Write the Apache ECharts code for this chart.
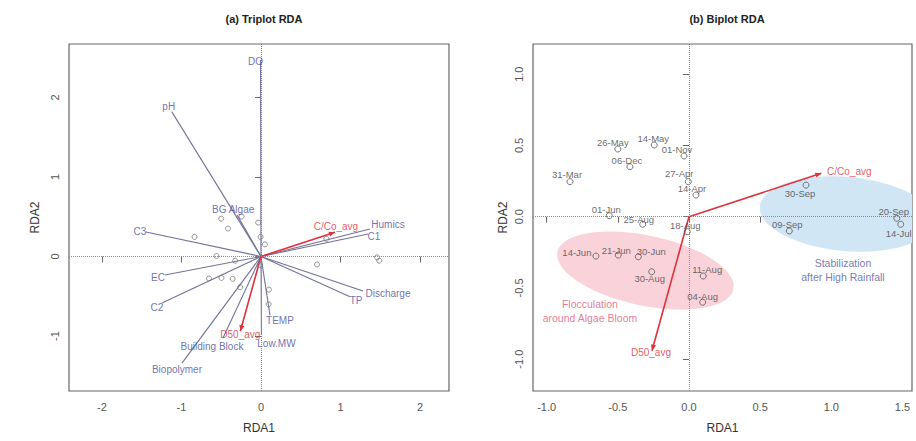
<!DOCTYPE html>
<html><head><meta charset="utf-8">
<script src="https://cdn.jsdelivr.net/npm/echarts@6/dist/echarts.min.js"></script>
<style>html,body{margin:0;padding:0;background:#fff}#c{width:916px;height:441px}</style>
</head><body><div id="c"></div>
<script>
// ---- data ----
const siteNames = ['31-Mar','26-May','14-May','01-Nov','06-Dec','27-Apr','14-Apr','01-Jun','25-Aug','18-Aug','14-Jun','21-Jun','30-Jun','30-Aug','11-Aug','04-Aug','30-Sep','20-Sep','14-Jul','09-Sep'];
const siteX = [-0.836,-0.50,-0.244,-0.035,-0.415,-0.005,0.049,-0.56,-0.325,-0.012,-0.654,-0.497,-0.356,-0.262,0.10,0.096,0.822,1.46,1.488,0.705];
const siteY = [0.246,0.475,0.503,0.426,0.351,0.246,0.152,0.007,-0.053,-0.105,-0.276,-0.269,-0.281,-0.386,-0.416,-0.60,0.222,-0.011,-0.053,-0.10];
const envNames = ['DO','pH','BG Algae','C3','EC','C2','Biopolymer','Building Block','TEMP','Low.MW','TP','Discharge','C1','Humics'];
const envX = [-0.006,-1.123,-0.30,-1.447,-1.208,-1.245,-0.994,-0.478,0.113,0.006,1.12,1.283,1.346,1.371];
const envY = [2.47,1.82,0.52,0.308,-0.233,-0.585,-1.34,-1.025,-0.736,-0.987,-0.505,-0.434,0.283,0.346];
const respNames = ['C/Co_avg','D50_avg'];
const respX = [0.93,-0.26];
const respY = [0.305,-0.94];
const leftXTicks = [-2,-1,0,1,2];
const leftYTicks = [-1,0,1,2];
const rightXTicks = [-1,-0.5,0,0.5,1,1.5];
const rightYTicks = [-1,-0.5,0,0.5,1];
const groupNames = ['Flocculation\naround Algae Bloom','Stabilization\nafter High Rainfall'];
const groupCX = [-0.306,1.107];
const groupCY = [-0.378,0.019];
const groupRX = [0.632,0.611];
const groupRY = [0.246,0.26];
const groupTilt = [12,5];
const groupTextX = [-0.696,1.082];
const groupTextY = [-0.662,-0.371];

// ---- label placement (px offsets) ----
const envOff = [[-5,2],[-3,-5],[-4,-6],[-6,0],[-7,2],[-5,4],[-5,6],[-11,8],[10,5],[15,8],[6,4],[25,2],[6,3],[18,-4]];
const respOffL = [[1,-6],[0,3]];
const respOffR = [[28,-2],[-1,2]];
const siteOff = [[-3,-7],[-5,-7],[-1,-7],[-7,-7],[-3,-6],[-9,-8],[-4,-7],[-3,-6],[-4,-5],[-2,-6],[-19,-4],[-2,-5],[13,-5],[-2,7],[4,-6],[0,-6],[-6,8],[-3,-7],[-2,9],[-2,-6]];

const FONT = "'Liberation Sans', Arial, Helvetica, sans-serif";
const ENVC = '#4c4c99', LINEC = '#72729a', RED = '#e0303a', AX = '#666';

function arrowSeries(gi, xs, ys, color, head, width) {
  return {
    type: 'custom', xAxisIndex: gi, yAxisIndex: gi, silent: true, z: 3,
    data: xs.map((x, i) => [x, ys[i]]),
    renderItem: function (params, api) {
      const p0 = api.coord([0, 0]);
      const p1 = api.coord([api.value(0), api.value(1)]);
      const ch = [{type: 'line', shape: {x1: p0[0], y1: p0[1], x2: p1[0], y2: p1[1]}, style: {stroke: color, lineWidth: width}}];
      if (head) {
        const dx = p1[0] - p0[0], dy = p1[1] - p0[1], L = Math.hypot(dx, dy);
        const ux = dx / L, uy = dy / L, hl = 6, hw = 2.6;
        const bx = p1[0] - ux * hl, by = p1[1] - uy * hl;
        ch.push({type: 'polygon', shape: {points: [[p1[0], p1[1]], [bx - uy * hw, by + ux * hw], [bx + uy * hw, by - ux * hw]]}, style: {fill: color}});
      }
      return {type: 'group', children: ch};
    }
  };
}

function labelSeries(gi, names, xs, ys, offs, color, size) {
  return {
    type: 'scatter', xAxisIndex: gi, yAxisIndex: gi, silent: true, symbolSize: 0, z: 5,
    data: xs.map((x, i) => ({value: [x, ys[i]], name: names[i], label: {offset: offs[i]}})),
    label: {show: true, position: 'inside', formatter: p => p.name, color: color, fontSize: size, fontFamily: FONT}
  };
}

function siteSeries(gi, size, border) {
  return {
    type: 'scatter', xAxisIndex: gi, yAxisIndex: gi, silent: true, z: 4,
    symbol: 'circle', symbolSize: size,
    itemStyle: {color: 'rgba(0,0,0,0)', borderColor: border, borderWidth: 1},
    data: siteX.map((x, i) => [x, siteY[i]]),
    markLine: {silent: true, symbol: 'none', label: {show: false}, animation: false,
      lineStyle: {type: 'dotted', color: '#8a8a8a', width: 1},
      data: [{xAxis: 0}, {yAxis: 0}]}
  };
}

function ellipseSeries() {
  return {
    type: 'custom', xAxisIndex: 1, yAxisIndex: 1, silent: true, z: 1, clip: true,
    data: groupCX.map((x, i) => [x, groupCY[i], groupRX[i], groupRY[i], groupTilt[i], i]),
    renderItem: function (params, api) {
      const c = api.coord([api.value(0), api.value(1)]);
      const rx = api.size([api.value(2), 0])[0];
      const ry = api.size([0, api.value(3)])[1];
      const th = api.value(4) * Math.PI / 180;
      const pts = [];
      for (let k = 0; k < 90; k++) {
        const t = k / 90 * Math.PI * 2;
        const ex = rx * Math.cos(t), ey = ry * Math.sin(t);
        pts.push([c[0] + ex * Math.cos(th) - ey * Math.sin(th), c[1] + ex * Math.sin(th) + ey * Math.cos(th)]);
      }
      const fill = api.value(5) === 0 ? '#f9d3d9' : '#d0e6f5';
      return {type: 'polygon', shape: {points: pts}, style: {fill: fill}};
    }
  };
}

function textSeries() {
  return {
    type: 'scatter', xAxisIndex: 1, yAxisIndex: 1, silent: true, symbolSize: 0, z: 5,
    data: groupTextX.map((x, i) => ({value: [x, groupTextY[i]], name: groupNames[i],
      label: {color: i === 0 ? '#dd5a78' : '#55559e'}})),
    label: {show: true, position: 'inside', formatter: p => p.name, fontSize: 10.5, lineHeight: 14, fontFamily: FONT}
  };
}

function xAx(gi, min, max, ticks, fmt) {
  return {gridIndex: gi, type: 'value', min: min, max: max,
    axisLine: {show: false}, splitLine: {show: false},
    axisTick: {show: true, customValues: ticks, length: 6, lineStyle: {color: AX}},
    axisLabel: {customValues: ticks, formatter: fmt, color: '#555', fontSize: 11, margin: 10, fontFamily: FONT},
    name: 'RDA1', nameLocation: 'middle', nameGap: 31,
    nameTextStyle: {color: '#333', fontSize: 12, fontFamily: FONT}};
}
function yAx(gi, min, max, ticks, fmt, gap) {
  return {gridIndex: gi, type: 'value', min: min, max: max,
    axisLine: {show: false}, splitLine: {show: false},
    axisTick: {show: true, customValues: ticks, length: 6, lineStyle: {color: AX}},
    axisLabel: {customValues: ticks, formatter: fmt, color: '#555', fontSize: 11, margin: 9, rotate: 90, fontFamily: FONT},
    name: 'RDA2', nameLocation: 'middle', nameGap: gap,
    nameTextStyle: {color: '#333', fontSize: 12, fontFamily: FONT}};
}
const fInt = v => String(v);
const f1 = v => v.toFixed(1);

const chart = echarts.init(document.getElementById('c'), null, {renderer: 'svg'});
chart.setOption({
  animation: false,
  backgroundColor: '#fff',
  title: [
    {text: '(a) Triplot RDA', left: 259, top: 8, textAlign: 'center', textStyle: {fontSize: 11, fontWeight: 'bold', color: '#222', fontFamily: FONT}},
    {text: '(b) Biplot RDA', left: 722, top: 8, textAlign: 'center', textStyle: {fontSize: 11, fontWeight: 'bold', color: '#222', fontFamily: FONT}}
  ],
  grid: [
    {left: 69, right: 467, top: 44, bottom: 50, show: true, borderColor: AX, borderWidth: 1.2, backgroundColor: 'transparent'},
    {left: 533, right: 4, top: 44, bottom: 50, show: true, borderColor: AX, borderWidth: 1.2, backgroundColor: 'transparent'}
  ],
  xAxis: [xAx(0, -2.415, 2.365, leftXTicks, fInt), xAx(1, -1.096, 1.567, rightXTicks, f1)],
  yAxis: [yAx(0, -1.69, 2.67, leftYTicks, fInt, 28), yAx(1, -1.223, 1.212, rightYTicks, f1, 24)],
  series: [
    ellipseSeries(),
    siteSeries(0, 5, '#777'),
    arrowSeries(0, envX, envY, LINEC, false, 1.1),
    arrowSeries(0, respX, respY, RED, true, 1.6),
    labelSeries(0, envNames, envX, envY, envOff, ENVC, 10),
    labelSeries(0, respNames, respX, respY, respOffL, RED, 10),
    siteSeries(1, 6, '#555'),
    arrowSeries(1, respX, respY, RED, true, 1.6),
    labelSeries(1, siteNames, siteX, siteY, siteOff, '#444', 9.5),
    labelSeries(1, respNames, respX, respY, respOffR, RED, 10),
    textSeries()
  ]
});
</script>
</body></html>
